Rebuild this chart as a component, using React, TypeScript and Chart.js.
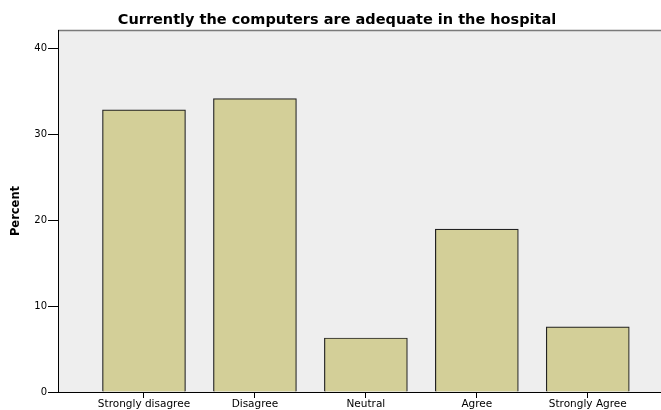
import React, { useEffect, useRef } from "react";
import { Chart, registerables } from "chart.js";

Chart.register(...registerables);

const categories = ["Strongly disagree", "Disagree", "Neutral", "Agree", "Strongly Agree"];
const percents = [32.9, 34.2, 6.3, 19.0, 7.6];
const yTicks = [0, 10, 20, 30, 40];
const chartTitle = "Currently the computers are adequate in the hospital";
const yTitle = "Percent";

const FONT = "'DejaVu Sans', Verdana, sans-serif";

const bgPlugin = {
  id: "plotBg",
  beforeDraw(chart: any) {
    const { ctx, chartArea } = chart;
    if (!chartArea) return;
    ctx.save();
    ctx.fillStyle = "#EEEEEE";
    ctx.fillRect(chartArea.left, chartArea.top, chartArea.right - chartArea.left, chartArea.bottom - chartArea.top);
    ctx.strokeStyle = "#7a7a7a";
    ctx.lineWidth = 1.5;
    ctx.beginPath();
    ctx.moveTo(chartArea.left, chartArea.top + 0.5);
    ctx.lineTo(chartArea.right, chartArea.top + 0.5);
    ctx.stroke();
    ctx.restore();
  },
  afterDraw(chart: any) {
    const { ctx } = chart;
    ctx.save();
    ctx.fillStyle = "#000";
    ctx.font = `bold 14.5px ${FONT}`;
    ctx.textAlign = "center";
    ctx.textBaseline = "alphabetic";
    ctx.fillText(chartTitle, 337, 24);
    ctx.restore();
  },
};

export default function App() {
  const ref = useRef<HTMLCanvasElement>(null);
  useEffect(() => {
    if (!ref.current) return;
    const chart = new Chart(ref.current, {
      type: "bar",
      data: {
        datasets: [
          {
            data: percents.map((v, i) => ({ x: i, y: v })),
            backgroundColor: "#D3CF98",
            borderColor: "#222222",
            borderWidth: 1.2,
            barThickness: 83,
          } as any,
        ],
      },
      plugins: [bgPlugin],
      options: {
        animation: false,
        responsive: false,
        maintainAspectRatio: false,
        layout: { padding: { left: 0, right: 0, top: 30, bottom: 0 } },
        plugins: {
          legend: { display: false },
          tooltip: { enabled: false },
          title: { display: false },
        },
        scales: {
          x: {
            type: "linear",
            min: -0.775,
            max: 4.66,
            offset: false,
            afterBuildTicks: (scale: any) => {
              scale.ticks = categories.map((_, i) => ({ value: i }));
            },
            afterFit: (scale: any) => {
              scale.height = 18;
            },
            ticks: {
              autoSkip: false,
              maxRotation: 0,
              color: "#000",
              padding: 0,
              font: { family: FONT, size: 10.5 },
              callback: (v: any) => categories[v] ?? "",
            },
            grid: { display: true, offset: false, drawOnChartArea: false, drawTicks: true, tickLength: 6, color: "#000" },
            border: { display: true, color: "#000", width: 1 },
          },
          y: {
            min: 0,
            max: 42.2,
            afterBuildTicks: (scale: any) => {
              scale.ticks = yTicks.map((v) => ({ value: v }));
            },
            afterFit: (scale: any) => {
              scale.width = 58;
            },
            ticks: {
              color: "#000",
              padding: 1,
              font: { family: FONT, size: 10 },
            },
            grid: { display: true, drawOnChartArea: false, drawTicks: true, tickLength: 10, color: "#000" },
            border: { display: true, color: "#000", width: 1 },
            title: {
              display: true,
              text: yTitle,
              color: "#000",
              font: { family: FONT, size: 11.5, weight: "bold" },
              padding: { top: 9, bottom: 0 },
            },
          },
        },
      } as any,
    });
    return () => chart.destroy();
  }, []);
  return (
    <div style={{ position: "fixed", left: 0, top: 0, width: 661, height: 410, background: "#fff" }}>
      <canvas ref={ref} width={661} height={410} style={{ width: 661, height: 410 }} />
    </div>
  );
}
